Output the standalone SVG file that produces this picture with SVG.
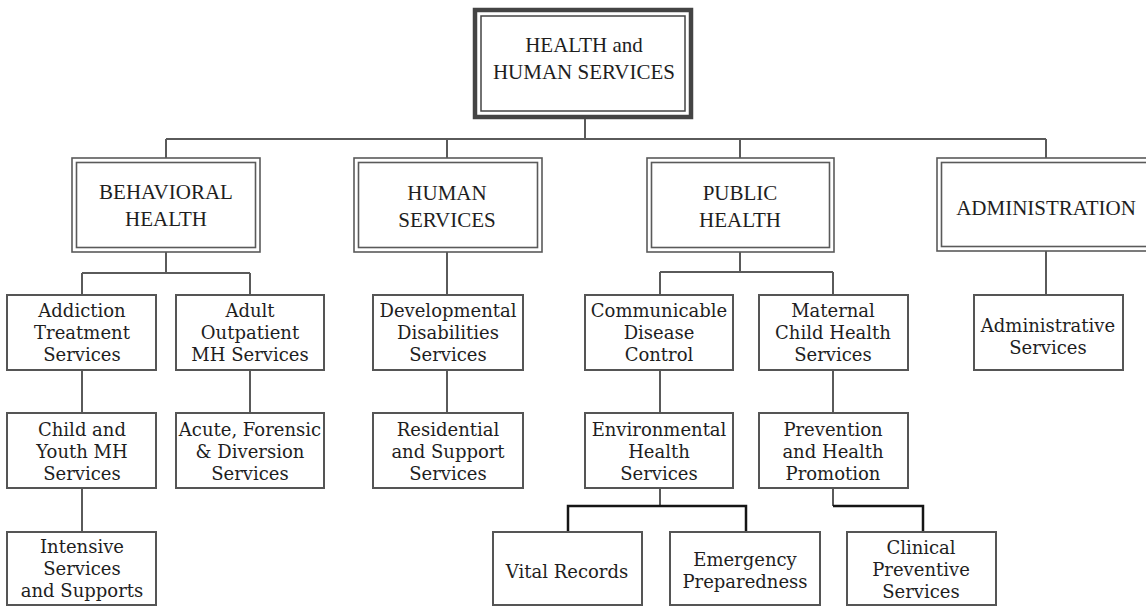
<svg xmlns="http://www.w3.org/2000/svg" width="1146" height="606" viewBox="0 0 1146 606">
<style>
  .bg { fill: #ffffff; }
  .top-outer { fill: #ffffff; stroke: #444444; stroke-width: 4.5; }
  .top-inner { fill: none; stroke: #444444; stroke-width: 1.5; }
  .dbl-outer { fill: #ffffff; stroke: #5a5a5a; stroke-width: 1.6; }
  .dbl-inner { fill: none; stroke: #5a5a5a; stroke-width: 1.6; }
  .box { fill: #ffffff; stroke: #555555; stroke-width: 2; }
  .conn { fill: none; stroke: #5a5a5a; stroke-width: 2; }
  .conn-dark { fill: none; stroke: #151515; stroke-width: 2.5; }
  .hdr { font-family: "Liberation Serif", "Times New Roman", serif; font-size: 21px; fill: #1e1e1e; text-anchor: middle; }
  .lbl { font-family: "DejaVu Serif", "Liberation Serif", serif; font-size: 18px; fill: #1e1e1e; text-anchor: middle; }
</style>
<rect class="bg" x="0" y="0" width="1146" height="606"/>

<g id="connectors">
  <path class="conn" d="M585 119 V139 M166 139 H1046 M166 139 V158 M447 139 V158 M740 139 V158 M1046 139 V158"/>
  <path class="conn" d="M166 252 V273 M82 273 H250 M82 273 V295 M250 273 V295"/>
  <path class="conn" d="M82 370 V413 M82 488 V532 M250 370 V413"/>
  <path class="conn" d="M447 252 V295 M447 370 V413"/>
  <path class="conn" d="M740 252 V272 M660 272 H833 M660 272 V295 M833 272 V295"/>
  <path class="conn" d="M660 370 V413 M833 370 V413"/>
  <path class="conn" d="M1046 250 V295"/>
  <path class="conn" d="M660 488 V506 M833 488 V506"/>
  <path class="conn-dark" d="M568 532 V506 H746 V532"/>
  <path class="conn-dark" d="M833 506 H923 V532"/>
</g>

<g id="hhs">
  <rect class="top-outer" x="475" y="10" width="216" height="107"/>
  <rect class="top-inner" x="481" y="16" width="204" height="95"/>
  <text class="hdr" font-size="20.5" x="584" y="52">HEALTH and</text>
  <text class="hdr" font-size="20.5" x="584" y="79">HUMAN SERVICES</text>
</g>

<g id="behavioral">
  <rect class="dbl-outer" x="72" y="158" width="188" height="94"/>
  <rect class="dbl-inner" x="76.5" y="162.5" width="179" height="85"/>
  <text class="hdr" x="166" y="199">BEHAVIORAL</text>
  <text class="hdr" x="166" y="226">HEALTH</text>
</g>

<g id="human-services">
  <rect class="dbl-outer" x="354" y="158" width="188" height="94"/>
  <rect class="dbl-inner" x="358.5" y="162.5" width="179" height="85"/>
  <text class="hdr" x="447" y="200">HUMAN</text>
  <text class="hdr" x="447" y="227">SERVICES</text>
</g>

<g id="public-health">
  <rect class="dbl-outer" x="647" y="158" width="187" height="94"/>
  <rect class="dbl-inner" x="651.5" y="162.5" width="178" height="85"/>
  <text class="hdr" x="740" y="200">PUBLIC</text>
  <text class="hdr" x="740" y="227">HEALTH</text>
</g>

<g id="administration">
  <rect class="dbl-outer" x="937" y="158" width="220" height="93"/>
  <rect class="dbl-inner" x="941.5" y="162.5" width="220" height="84"/>
  <text class="hdr" x="1046" y="215">ADMINISTRATION</text>
</g>

<g id="addiction">
  <rect class="box" x="7" y="295" width="149" height="75"/>
  <text class="lbl" x="82" y="317">Addiction</text>
  <text class="lbl" x="82" y="339">Treatment</text>
  <text class="lbl" x="82" y="361">Services</text>
</g>

<g id="adult-outpatient">
  <rect class="box" x="176" y="295" width="148" height="75"/>
  <text class="lbl" x="250" y="317">Adult</text>
  <text class="lbl" x="250" y="339">Outpatient</text>
  <text class="lbl" x="250" y="361">MH Services</text>
</g>

<g id="child-youth">
  <rect class="box" x="7" y="413" width="149" height="75"/>
  <text class="lbl" x="82" y="436">Child and</text>
  <text class="lbl" x="82" y="458">Youth MH</text>
  <text class="lbl" x="82" y="480">Services</text>
</g>

<g id="acute-forensic">
  <rect class="box" x="176" y="413" width="148" height="75"/>
  <text class="lbl" x="250" y="436">Acute, Forensic</text>
  <text class="lbl" x="250" y="458">&amp; Diversion</text>
  <text class="lbl" x="250" y="480">Services</text>
</g>

<g id="intensive">
  <rect class="box" x="7" y="532" width="149" height="73"/>
  <text class="lbl" x="82" y="553">Intensive</text>
  <text class="lbl" x="82" y="575">Services</text>
  <text class="lbl" x="82" y="597">and Supports</text>
</g>

<g id="developmental">
  <rect class="box" x="373" y="295" width="150" height="75"/>
  <text class="lbl" x="448" y="317">Developmental</text>
  <text class="lbl" x="448" y="339">Disabilities</text>
  <text class="lbl" x="448" y="361">Services</text>
</g>

<g id="residential">
  <rect class="box" x="373" y="413" width="150" height="75"/>
  <text class="lbl" x="448" y="436">Residential</text>
  <text class="lbl" x="448" y="458">and Support</text>
  <text class="lbl" x="448" y="480">Services</text>
</g>

<g id="communicable">
  <rect class="box" x="585" y="295" width="148" height="75"/>
  <text class="lbl" x="659" y="317">Communicable</text>
  <text class="lbl" x="659" y="339">Disease</text>
  <text class="lbl" x="659" y="361">Control</text>
</g>

<g id="maternal">
  <rect class="box" x="759" y="295" width="149" height="75"/>
  <text class="lbl" x="833" y="317">Maternal</text>
  <text class="lbl" x="833" y="339">Child Health</text>
  <text class="lbl" x="833" y="361">Services</text>
</g>

<g id="environmental">
  <rect class="box" x="585" y="413" width="148" height="75"/>
  <text class="lbl" x="659" y="436">Environmental</text>
  <text class="lbl" x="659" y="458">Health</text>
  <text class="lbl" x="659" y="480">Services</text>
</g>

<g id="prevention">
  <rect class="box" x="759" y="413" width="149" height="75"/>
  <text class="lbl" x="833" y="436">Prevention</text>
  <text class="lbl" x="833" y="458">and Health</text>
  <text class="lbl" x="833" y="480">Promotion</text>
</g>

<g id="administrative-services">
  <rect class="box" x="974" y="295" width="149" height="75"/>
  <text class="lbl" x="1048" y="332">Administrative</text>
  <text class="lbl" x="1048" y="354">Services</text>
</g>

<g id="vital-records">
  <rect class="box" x="493" y="532" width="149" height="73"/>
  <text class="lbl" x="567" y="578">Vital Records</text>
</g>

<g id="emergency">
  <rect class="box" x="670" y="532" width="150" height="73"/>
  <text class="lbl" x="745" y="566">Emergency</text>
  <text class="lbl" x="745" y="588">Preparedness</text>
</g>

<g id="clinical">
  <rect class="box" x="847" y="532" width="149" height="73"/>
  <text class="lbl" x="921" y="554">Clinical</text>
  <text class="lbl" x="921" y="576">Preventive</text>
  <text class="lbl" x="921" y="598">Services</text>
</g>
</svg>
